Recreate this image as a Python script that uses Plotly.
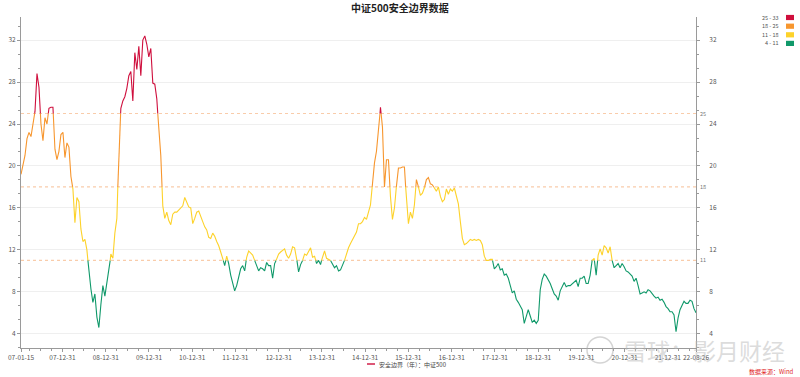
import numpy as np
import pandas as pd
import plotly.graph_objects as go

# ---------------- data ----------------
seg_2007_2010 = [
    19.2, 20.0, 21.0, 22.6, 23.2, 22.8, 24.0, 25.2, 28.8, 27.5,
    24.0, 22.4, 24.6, 24.0, 25.5, 25.6, 25.6, 21.6, 20.6, 21.4,
    23.0, 23.2, 20.8, 22.2, 21.8, 19.0, 17.8, 14.6, 17.0, 16.6,
    14.0, 12.8, 13.0, 12.0, 10.0, 8.3, 7.0, 7.8, 5.6, 4.6,
    6.8, 8.6, 7.6, 8.8, 9.8, 11.6, 11.2, 13.6, 15.0, 21.2,
    25.5, 26.2, 26.6, 27.4, 28.6, 29.0, 26.2, 30.8, 29.2, 31.4,
    28.6, 32.0, 32.4, 31.6, 30.4, 31.2, 27.9, 27.8, 26.4, 23.5,
    21.0, 16.2, 15.0, 15.6, 14.8, 14.4, 15.4, 15.6, 15.6, 15.8,
    16.0, 16.2, 17.0, 16.5, 16.1,
]
seg_2010_2014 = [
    16.0, 14.5, 15.0, 15.6, 15.7, 15.1, 14.7, 14.2, 13.9, 13.2,
    13.1, 13.6, 13.3, 12.8, 12.4, 11.8, 11.2, 10.5, 11.4, 10.7,
    9.6, 8.8, 8.1, 8.6, 9.4, 10.2, 10.5, 10.0, 11.3, 11.9,
    11.7, 11.5, 11.0, 10.4, 10.0, 10.3, 10.2, 10.0, 10.8, 10.5,
    10.5, 9.3, 10.7, 11.1, 11.6, 11.8, 12.0, 12.1, 11.5, 11.2,
    11.6, 12.3, 12.2, 11.2, 9.9, 10.6, 11.0, 11.6, 11.5, 11.9,
    12.2, 11.3, 11.4, 10.7, 11.0, 10.6, 11.4, 11.9, 11.2, 11.1,
    11.0, 10.6, 10.3, 10.5, 10.0, 10.1, 10.5, 11.0, 11.7, 12.2,
    12.6, 13.0, 13.4, 13.7, 14.5,
]
seg_2014_2018 = [
    14.5, 14.7, 15.1, 14.9, 15.7, 16.3, 18.3, 20.3, 21.4, 23.1,
    25.6, 23.7, 18.0, 20.6, 20.6, 17.1, 14.9, 16.0, 18.1, 19.8,
    19.8, 19.9, 19.9, 16.8, 14.5, 15.6, 15.0, 16.3, 18.7, 18.0,
    17.2, 17.4, 17.9, 18.7, 18.9, 18.3, 18.2, 17.9, 17.6, 18.0,
    17.1, 16.6, 16.8, 17.8, 17.3, 17.8, 17.6, 17.9, 17.2, 16.4,
    14.7, 13.1, 12.5, 12.6, 12.8, 13.0, 12.9, 13.0, 12.9, 13.0,
    12.9, 12.5, 11.4, 11.0, 11.0, 11.1, 11.1, 10.2, 10.4, 10.7,
    10.1, 10.2, 9.6, 9.7, 9.3, 8.7, 7.9, 8.1, 7.3, 7.0,
    6.7, 6.3, 5.0, 5.8, 6.3,
]
seg_2018_2022 = [
    5.7, 5.1, 5.3, 5.0, 5.3, 8.2, 9.2, 9.7, 9.5, 9.2,
    8.8, 8.3, 7.8, 7.6, 7.2, 8.1, 8.6, 8.9, 8.5, 8.6,
    8.6, 8.8, 9.0, 9.1, 8.5, 9.3, 9.3, 9.5, 8.8, 8.8,
    9.6, 11.0, 11.2, 9.6, 11.5, 12.1, 11.5, 12.4, 12.2, 11.7,
    12.3, 11.0, 10.3, 10.5, 10.7, 10.3, 10.7, 10.4, 10.0, 9.9,
    9.7, 9.5, 9.0, 9.3, 8.6, 7.8, 7.9, 8.0, 7.9, 8.2,
    8.1, 7.8, 7.6, 7.4, 7.5, 7.2, 7.3, 7.0, 6.6, 6.4,
    6.1, 6.1, 5.8, 4.2, 5.5, 6.3, 6.8, 7.1, 6.9, 6.9,
    7.2, 7.1, 6.4, 6.0,
]
values = seg_2007_2010 + seg_2010_2014 + seg_2014_2018 + seg_2018_2022
start_date, end_date = "2007-01-15", "2022-08-26"

tick_dates = ["2007-01-15", "2007-12-31", "2008-12-31", "2009-12-31", "2010-12-31",
              "2011-12-31", "2012-12-31", "2013-12-31", "2014-12-31", "2015-12-31",
              "2016-12-31", "2017-12-31", "2018-12-31", "2019-12-31", "2020-12-31",
              "2021-12-31", "2022-08-26"]
tick_labels = ["07-01-15", "07-12-31", "08-12-31", "09-12-31", "10-12-31",
               "11-12-31", "12-12-31", "13-12-31", "14-12-31", "15-12-31",
               "16-12-31", "17-12-31", "18-12-31", "19-12-31", "20-12-31",
               "21-12-31", "22-08-26"]

thresholds = [11, 18, 25]
band_labels = ["4 - 11", "11 - 18", "18 - 25", "25 - 33"]
band_colors = ["#10996a", "#fdd22a", "#f7962e", "#cf0f3d"]
mark_color = "#f9ccaa"

series_name = "安全边界（年）：中证500"
title_text = "中证500安全边界数据"
source_text = "数据来源：Wind"
watermark_text = "雪球：影月财经"

FONT = "Noto Sans CJK SC"

# ---------------- build colour-segmented line ----------------
dates = pd.date_range(start_date, end_date, periods=len(values))
ts = dates.asi8.astype(float)
ys = np.array(values, dtype=float)

rx, ry = [ts[0]], [ys[0]]
for i in range(len(ys) - 1):
    t0, t1, y0, y1 = ts[i], ts[i + 1], ys[i], ys[i + 1]
    cr = [th for th in thresholds if (y0 - th) * (y1 - th) < 0]
    cr.sort(key=lambda th: (th - y0) / (y1 - y0))
    for th in cr:
        f = (th - y0) / (y1 - y0)
        rx.append(t0 + f * (t1 - t0))
        ry.append(th)
    rx.append(t1)
    ry.append(y1)


def band_of(y):
    for b, th in enumerate(thresholds):
        if y < th:
            return b
    return len(thresholds)


bx = [[] for _ in band_colors]
by = [[] for _ in band_colors]
last_end = [None] * len(band_colors)
for j in range(len(rx) - 1):
    b = band_of((ry[j] + ry[j + 1]) / 2)
    if last_end[b] != j:
        if bx[b]:
            bx[b].append(None)
            by[b].append(None)
        bx[b].append(pd.Timestamp(int(rx[j])))
        by[b].append(ry[j])
    bx[b].append(pd.Timestamp(int(rx[j + 1])))
    by[b].append(ry[j + 1])
    last_end[b] = j + 1

fig = go.Figure()
for b in range(len(band_colors)):
    fig.add_trace(go.Scatter(x=bx[b], y=by[b], mode="lines",
                             line=dict(color=band_colors[b], width=1.1),
                             showlegend=False, hoverinfo="x+y", connectgaps=False))
# trace to anchor right axis
fig.add_trace(go.Scatter(x=[dates[0], dates[-1]], y=[4, 4], yaxis="y2", mode="lines",
                         line=dict(width=0), opacity=0, showlegend=False, hoverinfo="skip"))

# ---------------- layout ----------------
L, R, T, B = 21, 696, 17, 348
W, H = 800, 377
YMIN, YMAX = 2.65, 34.2


def px(x):
    return (x - L) / (R - L)


def py(y):
    return (B - y) / (B - T)


axis_col = "#9a9a9a"
tickfont = dict(family=FONT, size=6.5, color="#555")

fig.update_layout(
    width=W, height=H,
    margin=dict(l=L, r=W - R, t=T, b=H - B),
    plot_bgcolor="white", paper_bgcolor="white",
    font=dict(family=FONT),
    xaxis=dict(type="date", range=[dates[0], dates[-1]], automargin=False,
               tickmode="array", tickvals=tick_dates, ticktext=tick_labels, tickangle=0,
               tickfont=tickfont, ticks="outside", ticklen=3, tickcolor=axis_col,
               showline=True, linecolor=axis_col, linewidth=1, showgrid=False,
               zeroline=False,
               minor=dict(ticks="outside", ticklen=2, tickcolor=axis_col,
                          dtick="M3", tick0="2006-12-31", showgrid=False)),
    yaxis=dict(range=[YMIN, YMAX], tick0=0, dtick=4, tickfont=tickfont, automargin=False,
               ticks="outside", ticklen=3, tickcolor=axis_col,
               showline=True, linecolor=axis_col, linewidth=1,
               showgrid=True, gridcolor="#efefef", gridwidth=1, zeroline=False,
               minor=dict(ticks="outside", ticklen=2, tickcolor=axis_col,
                          tick0=0, dtick=4 / 3, showgrid=False)),
    yaxis2=dict(range=[YMIN, YMAX], tick0=0, dtick=4, tickfont=tickfont, automargin=False,
                overlaying="y", side="right",
                ticks="outside", ticklen=3, tickcolor=axis_col, ticklabelstandoff=8,
                showline=True, linecolor=axis_col, linewidth=1,
                showgrid=False, zeroline=False,
                minor=dict(ticks="outside", ticklen=2, tickcolor=axis_col,
                           tick0=0, dtick=4 / 3, showgrid=False)),
)

shapes = []
annotations = []

# mark lines
for th in thresholds:
    shapes.append(dict(type="line", xref="paper", yref="y", x0=0, x1=1, y0=th, y1=th,
                       line=dict(color=mark_color, width=1.2, dash="dot"), layer="below"))
    annotations.append(dict(xref="paper", yref="y", x=1, y=th, xanchor="left", yanchor="middle",
                            xshift=2, text=str(th), showarrow=False,
                            font=dict(family=FONT, size=5.5, color="#777")))

# title
annotations.append(dict(xref="paper", yref="paper", x=px(400), y=py(8), text="<b>" + title_text + "</b>",
                        showarrow=False, xanchor="center", yanchor="middle",
                        font=dict(family=FONT, size=10, color="#222")))

# visual-map legend (top right)
rows_y = [17.5, 26.2, 34.8, 43.4]
for i, b in enumerate(reversed(range(len(band_colors)))):
    yy = rows_y[i]
    shapes.append(dict(type="rect", xref="paper", yref="paper",
                       x0=px(786), x1=px(794), y0=py(yy - 2.6), y1=py(yy + 2.6),
                       fillcolor=band_colors[b], line=dict(width=0)))
    annotations.append(dict(xref="paper", yref="paper", x=px(781), y=py(yy), text=band_labels[b],
                            showarrow=False, xanchor="right", yanchor="middle",
                            font=dict(family=FONT, size=5.5, color="#555")))

# watermark
shapes.append(dict(type="circle", xref="paper", yref="paper", x0=px(587), x1=px(613),
                   y0=py(337), y1=py(363), line=dict(color="rgba(170,170,170,0.5)", width=1.5)))
annotations.append(dict(xref="paper", yref="paper", x=px(704), y=py(350), text=watermark_text,
                        showarrow=False, xanchor="center", yanchor="middle",
                        font=dict(family=FONT, size=23, color="rgba(185,185,185,0.5)")))

# bottom legend
shapes.append(dict(type="line", xref="paper", yref="paper", x0=px(367), x1=px(375),
                   y0=py(364), y1=py(364), line=dict(color=band_colors[3], width=1.4)))
annotations.append(dict(xref="paper", yref="paper", x=px(377), y=py(364), text=series_name,
                        showarrow=False, xanchor="left", yanchor="middle",
                        font=dict(family=FONT, size=6, color="#444")))

# source
annotations.append(dict(xref="paper", yref="paper", x=px(796), y=py(371), text=source_text,
                        showarrow=False, xanchor="right", yanchor="middle",
                        font=dict(family=FONT, size=6, color="#e0201b")))

fig.update_layout(shapes=shapes, annotations=annotations)

fig.write_html("out.html", config={"displayModeBar": False},
               post_script="document.body.style.margin='0';document.body.style.overflow='hidden';")
